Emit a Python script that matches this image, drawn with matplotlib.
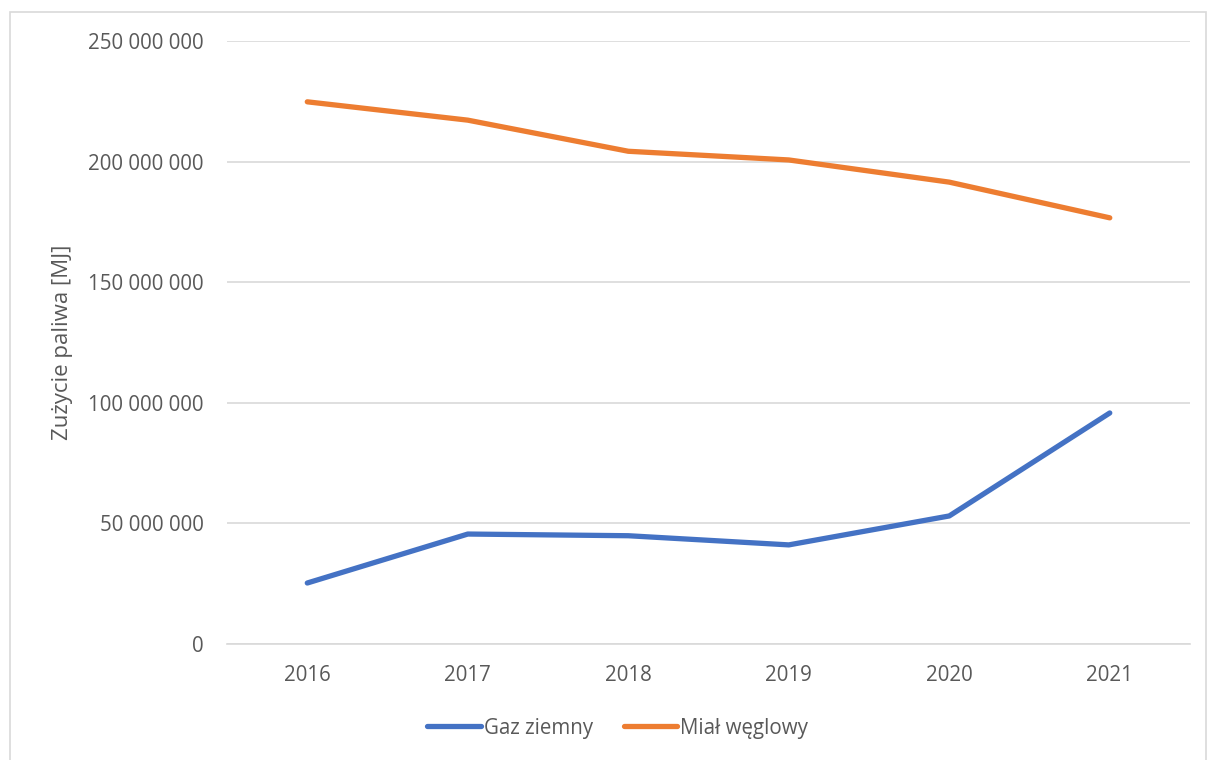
import numpy as np
import matplotlib.pyplot as plt
from matplotlib.patches import Rectangle
from matplotlib.ticker import FuncFormatter

plt.rcParams['font.family'] = ['Open Sans', 'DejaVu Sans']

years = ['2016', '2017', '2018', '2019', '2020', '2021']
gaz = [25.3e6, 45.6e6, 44.9e6, 41.1e6, 53.1e6, 95.8e6]
mial = [224.8e6, 217.2e6, 204.3e6, 200.7e6, 191.5e6, 176.7e6]

txt = '#595959'

fig = plt.figure(figsize=(12.09, 7.6), dpi=100)
ax = fig.add_axes([0.1878, 0.1526, 0.7965, 0.7934])

x = np.arange(len(years))
ax.plot(x, gaz, color='#4472C4', lw=3.8, solid_capstyle='round', label='Gaz ziemny')
ax.plot(x, mial, color='#ED7D31', lw=3.8, solid_capstyle='round', label='Miał węglowy')

ax.set_xlim(-0.5, 5.5)
ax.set_ylim(0, 250e6)
ax.set_yticks(np.arange(0, 250e6 + 1, 50e6))
ax.yaxis.set_major_formatter(FuncFormatter(lambda v, p: '{:,.0f}'.format(v).replace(',', ' ')))
ax.set_xticks(x)
ax.set_xticklabels(years)

ax.grid(axis='y', color='#D9D9D9', lw=1.2)
ax.set_axisbelow(True)
for s in ['top', 'right', 'left']:
    ax.spines[s].set_visible(False)
ax.spines['bottom'].set_color('#D9D9D9')
ax.spines['bottom'].set_linewidth(1.2)
ax.tick_params(axis='both', length=0, labelsize=14.8, labelcolor=txt)
ax.tick_params(axis='y', pad=17)
ax.tick_params(axis='x', pad=15)

ax.set_ylabel('Zużycie paliwa [MJ]', fontsize=16, color=txt, labelpad=11)

leg = fig.legend(loc='center', bbox_to_anchor=(0.511, 0.042), ncol=2, frameon=False,
                 fontsize=14.8, handlelength=2.6, handletextpad=0.15, columnspacing=1.5)
for t in leg.get_texts():
    t.set_color(txt)

fig.patches.append(Rectangle((10 / 1209, -0.01), 1196 / 1209, 1 - 12 / 760 + 0.01,
                             transform=fig.transFigure, fill=False, ec='#D9D9D9', lw=1.2))

fig.savefig('out.png', dpi=100)
